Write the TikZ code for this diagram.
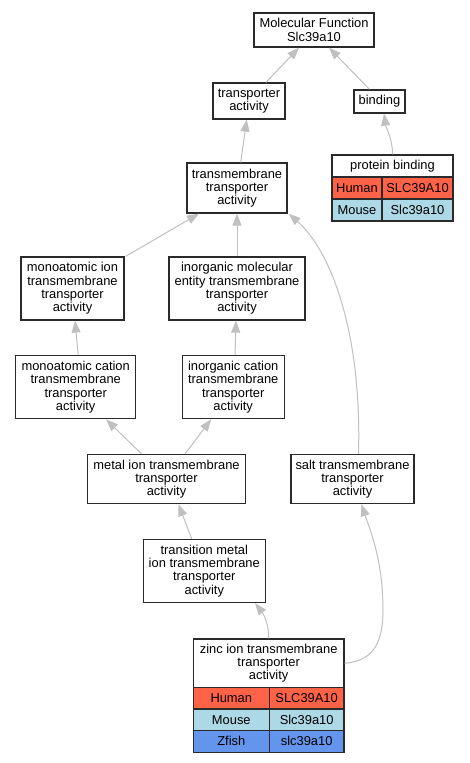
\documentclass[tikz,border=0pt]{standalone}
\usepackage{fontspec}
\setmainfont{Liberation Sans}
\usetikzlibrary{arrows.meta}
\definecolor{edgegray}{HTML}{C0C0C0}
\definecolor{boxline}{HTML}{2A2A2A}
\definecolor{human}{HTML}{FF6347}
\definecolor{mouse}{HTML}{ADD8E6}
\definecolor{zfish}{HTML}{6495ED}
\begin{document}
\begin{tikzpicture}[x=1pt,y=-1pt,
  box/.style={draw=boxline, line width=1.3pt, fill=white, align=center, inner sep=0pt,
    font=\fontsize{12.9}{13.3}\selectfont},
  humancell/.style={box, fill=human},
  mousecell/.style={box, fill=mouse},
  zfishcell/.style={box, fill=zfish},
  edge/.style={draw=edgegray, line width=1pt, -{Triangle[length=12pt,width=9pt]}}]
\useasboundingbox[fill=white] (0,0) rectangle (469,763);

% nodes
\node[box, minimum width=120pt, minimum height=34pt] (mf) at (314,30) {Molecular Function\\Slc39a10};
\node[box, minimum width=72pt, minimum height=36pt] (ta) at (249,101) {transporter\\activity};
\node[box, minimum width=51pt, minimum height=23pt] (bind) at (379.5,101.5) {binding};
\node[box, minimum width=121pt, minimum height=22pt] (pb) at (392.5,166) {protein binding};
\node[humancell, minimum width=50pt, minimum height=22pt] (pbh1) at (357,188) {Human};
\node[humancell, minimum width=71pt, minimum height=22pt] (pbh2) at (417.5,188) {SLC39A10};
\node[mousecell, minimum width=50pt, minimum height=22pt] (pbm1) at (357,210) {Mouse};
\node[mousecell, minimum width=71pt, minimum height=22pt] (pbm2) at (417.5,210) {Slc39a10};
\node[box, minimum width=100pt, minimum height=50pt] (tta) at (237,188) {transmembrane\\transporter\\activity};
\node[box, minimum width=103pt, minimum height=63pt] (mi) at (72.5,288.5) {monoatomic ion\\transmembrane\\transporter\\activity};
\node[box, minimum width=136pt, minimum height=63pt] (ime) at (237,288.5) {inorganic molecular\\entity transmembrane\\transporter\\activity};
\node[box, minimum width=120pt, minimum height=63pt] (mc) at (75.7,387.2) {monoatomic cation\\transmembrane\\transporter\\activity};
\node[box, minimum width=102pt, minimum height=63pt] (ic) at (233.2,387.2) {inorganic cation\\transmembrane\\transporter\\activity};
\node[box, minimum width=158pt, minimum height=49pt] (metal) at (166.5,479) {metal ion transmembrane\\transporter\\activity};
\node[box, minimum width=123pt, minimum height=49pt] (salt) at (352.5,479) {salt transmembrane\\transporter\\activity};
\node[box, minimum width=122pt, minimum height=63pt] (tm) at (204.3,571) {transition metal\\ion transmembrane\\transporter\\activity};
\node[box, minimum width=150.7pt, minimum height=48.7pt] (zinc) at (268.65,663.3) {zinc ion transmembrane\\transporter\\activity};
\node[humancell, minimum width=76pt, minimum height=21.3pt] (zh1) at (231.3,698.35) {Human};
\node[humancell, minimum width=74.7pt, minimum height=21.3pt] (zh2) at (306.65,698.35) {SLC39A10};
\node[mousecell, minimum width=76pt, minimum height=21.3pt] (zm1) at (231.3,719.65) {Mouse};
\node[mousecell, minimum width=74.7pt, minimum height=21.3pt] (zm2) at (306.65,719.65) {Slc39a10};
\node[zfishcell, minimum width=76pt, minimum height=22pt] (zz1) at (231.3,741.3) {Zfish};
\node[zfishcell, minimum width=74.7pt, minimum height=22pt] (zz2) at (306.65,741.3) {slc39a10};

% edges
\draw[edge] ([xshift=17pt]ta.north) -- ([xshift=-15pt]mf.south);
\draw[edge] ([xshift=-10pt]bind.north) -- ([xshift=15pt]mf.south);
\draw[edge] (pb.north) .. controls (392.5,138) and (386,128) .. ([xshift=4.5pt]bind.south);
\draw[edge] ([xshift=3.7pt]tta.north) -- ([xshift=-2.3pt]ta.south);
\draw[edge] ([xshift=1pt]mi.north east) -- ([xshift=-38pt]tta.south);
\draw[edge] (ime.north) -- (tta.south);
\draw[edge] ([xshift=6pt]salt.north) .. controls (362,330) and (330,250) .. ([xshift=1pt]tta.south east);
\draw[edge] ([xshift=2.5pt]mc.north) -- ([xshift=2.5pt]mi.south);
\draw[edge] ([xshift=1.8pt]ic.north) -- ([xshift=-1pt]ime.south);
\draw[edge] ([xshift=-25pt]metal.north) -- ([xshift=30.3pt]mc.south);
\draw[edge] ([xshift=18.5pt]metal.north) -- ([xshift=-22pt]ic.south);
\draw[edge] ([xshift=-12.6pt]tm.north) -- ([xshift=12pt]metal.south);
\draw[edge] (zinc.north) .. controls (269,622) and (262,612) .. ([xshift=50.7pt]tm.south);
\draw[edge] (zinc.east) .. controls (375,661) and (383,640) .. (383,610)
  .. controls (383,560) and (370,530) .. ([xshift=9pt]salt.south);
\end{tikzpicture}
\end{document}
